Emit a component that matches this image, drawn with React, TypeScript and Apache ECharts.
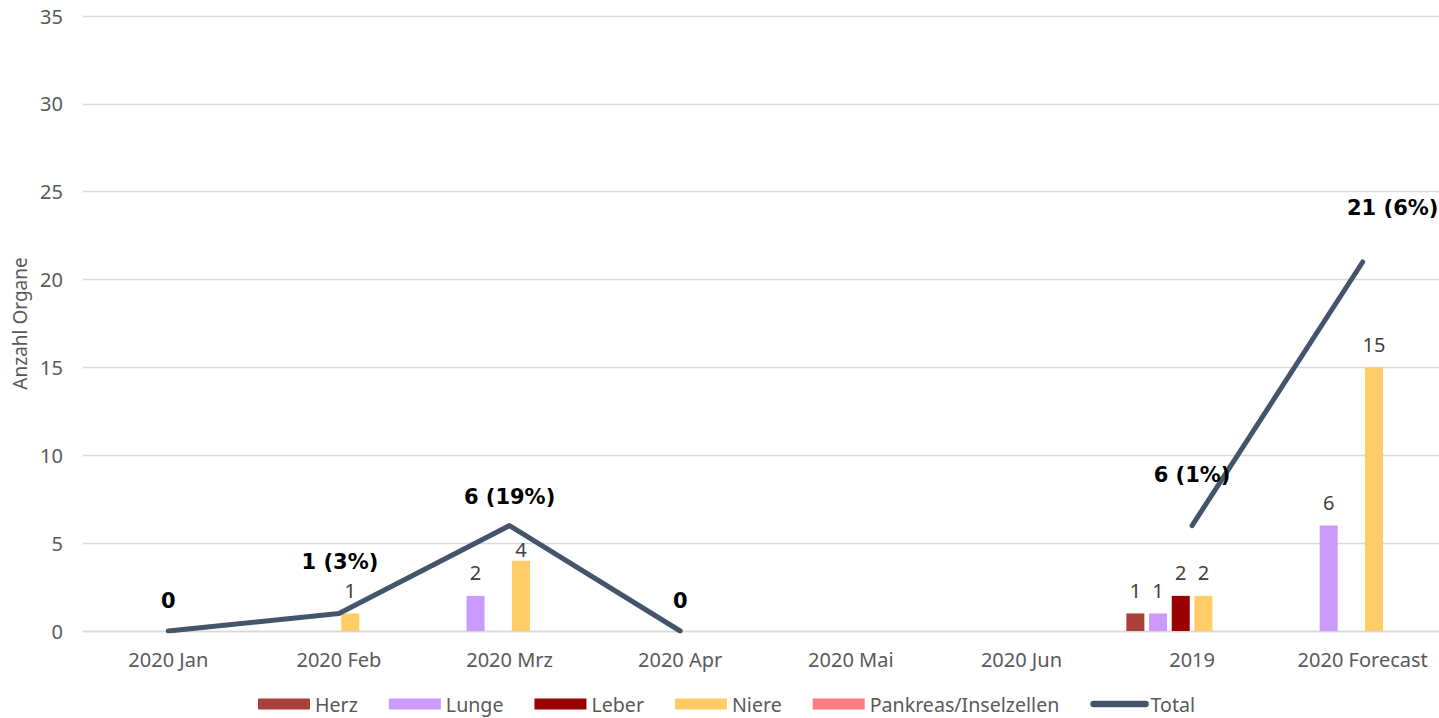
import React, { useEffect, useRef } from 'react';
import * as echarts from 'echarts';

// ---- Data ----
const categories = ['2020 Jan', '2020 Feb', '2020 Mrz', '2020 Apr', '2020 Mai', '2020 Jun', '2019', '2020 Forecast'];
const herz = [null, null, null, null, null, null, 1, null];
const lunge = [null, null, 2, null, null, null, 1, 6];
const leber = [null, null, null, null, null, null, 2, null];
const niere = [null, 1, 4, null, null, null, 2, 15];
const pankreas = [null, null, null, null, null, null, null, null];
const total = [0, 1, 6, 0, null, null, 6, 21];
const totalLabels = ['0', '1 (3%)', '6 (19%)', '0', '', '', '6 (1%)', '21 (6%)'];
const yMin = 0;
const yMax = 35;
const yInterval = 5;

// ---- Layout / style (not data) ----
const totalLabelOffsets: [number, number][] = [[0, -14], [1, -36], [0, -13], [0, -14], [0, 0], [0, 0], [0, -35], [30, -38]];
const niereLabelOffsets: [number, number][] = [[0, 0], [0, 0], [0, 12], [0, 0], [0, 0], [0, 0], [0, 0], [0, 0]];

const AXIS_FONT = 'Noto Sans';
const TEXT_GRAY = '#595959';
const GRID_GRAY = '#D9D9D9';
const CHART_W = 1448;
const CHART_H = 718;

const barLabel = {
  show: true,
  position: 'top' as const,
  distance: 13,
  color: '#404040',
  fontSize: 20,
  fontFamily: AXIS_FONT,
};

function barSeries(name: string, data: (number | null)[], color: string, offsets?: [number, number][]) {
  return {
    name,
    type: 'bar',
    barWidth: 18,
    barGap: '26%',
    itemStyle: { color },
    label: barLabel,
    data: data.map((v, i) =>
      offsets ? { value: v, label: { offset: offsets[i] } } : v
    ),
  };
}

export default function App() {
  const ref = useRef<HTMLDivElement>(null);

  useEffect(() => {
    if (!ref.current) return;
    const chart = echarts.init(ref.current, undefined, { renderer: 'svg' });
    const option: any = {
      animation: false,
      backgroundColor: '#ffffff',
      grid: { left: 83, right: 0, top: 16, bottom: 87, containLabel: false },
      legend: {
        left: 258,
        top: 694,
        padding: 0,
        itemWidth: 52,
        itemHeight: 11,
        itemGap: 31,
        textStyle: { color: TEXT_GRAY, fontSize: 19.6, lineHeight: 20, fontFamily: AXIS_FONT },
        data: [
          { name: 'Herz', icon: 'rect' },
          { name: 'Lunge', icon: 'rect' },
          { name: 'Leber', icon: 'rect' },
          { name: 'Niere', icon: 'rect' },
          { name: 'Pankreas/Inselzellen', icon: 'rect' },
          { name: 'Total', itemStyle: { opacity: 0 }, lineStyle: { width: 6.5, cap: 'round', color: '#44546A' } },
        ],
      },
      xAxis: {
        type: 'category',
        data: categories,
        axisTick: { show: false },
        axisLine: { show: true, lineStyle: { color: GRID_GRAY, width: 1.3 } },
        axisLabel: { color: TEXT_GRAY, fontSize: 20, fontFamily: AXIS_FONT, margin: 18, interval: 0 },
      },
      yAxis: {
        type: 'value',
        min: yMin,
        max: yMax,
        interval: yInterval,
        name: 'Anzahl Organe',
        nameLocation: 'middle',
        nameGap: 53,
        nameTextStyle: { color: TEXT_GRAY, fontSize: 19, fontFamily: AXIS_FONT },
        axisLine: { show: false },
        axisTick: { show: false },
        axisLabel: { color: TEXT_GRAY, fontSize: 20, fontFamily: AXIS_FONT, margin: 20 },
        splitLine: { lineStyle: { color: GRID_GRAY, width: 1.3 } },
      },
      series: [
        barSeries('Herz', herz, '#A9403A'),
        barSeries('Lunge', lunge, '#CC99FF'),
        barSeries('Leber', leber, '#990000'),
        barSeries('Niere', niere, '#FFCC66', niereLabelOffsets),
        barSeries('Pankreas/Inselzellen', pankreas, '#FF7C80'),
        { name: '_spacer', type: 'bar', barWidth: 18, barGap: '26%', data: pankreas.map(() => null) },
        {
          name: 'Total',
          type: 'line',
          z: 5,
          symbol: 'circle',
          symbolSize: 0.1,
          itemStyle: { color: '#44546A' },
          lineStyle: { color: '#44546A', width: 5, cap: 'round', join: 'round' },
          connectNulls: false,
          label: {
            show: true,
            position: 'top',
            distance: 5,
            color: '#000000',
            fontSize: 21,
            fontWeight: 'bold',
            fontFamily: 'DejaVu Sans',
            formatter: (p: any) => totalLabels[p.dataIndex],
          },
          data: total.map((v, i) => ({ value: v, label: { offset: totalLabelOffsets[i] } })),
        },
      ],
    };
    chart.setOption(option);
    return () => chart.dispose();
  }, []);

  return (
    <div style={{ position: 'absolute', left: 0, top: 0, width: 1439, height: CHART_H, overflow: 'hidden' }}>
      <div ref={ref} style={{ width: CHART_W, height: CHART_H }} />
    </div>
  );
}
